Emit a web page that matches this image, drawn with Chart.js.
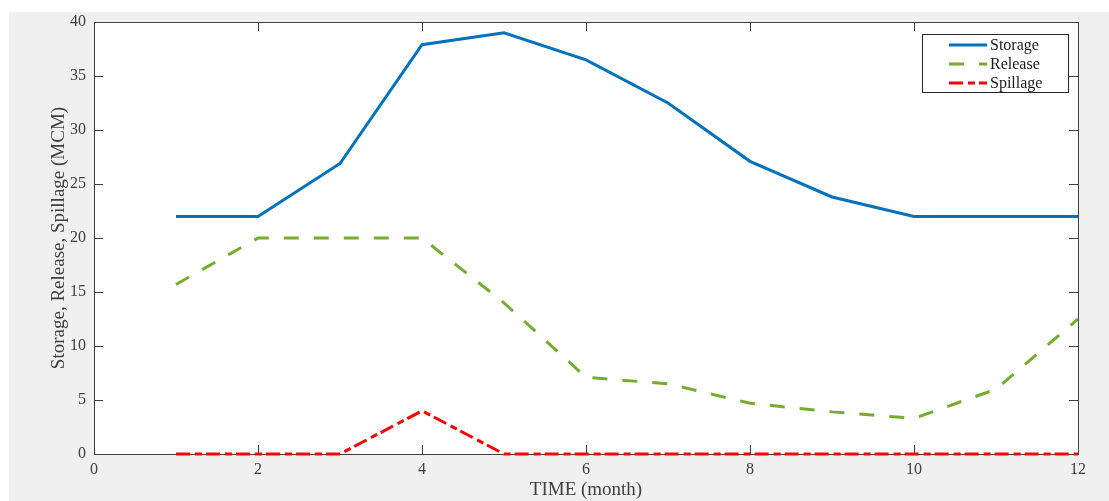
<!DOCTYPE html>
<html>
<head>
<meta charset="utf-8">
<script src="https://cdn.jsdelivr.net/npm/chart.js@4"></script>
<style>
html, body { margin: 0; padding: 0; background: #fff; }
#wrap { width: 1109px; height: 501px; }
</style>
</head>
<body>
<div id="wrap"><canvas id="chart" width="1109" height="501"></canvas></div>
<script>
// Data
const months = [1, 2, 3, 4, 5, 6, 7, 8, 9, 10, 11, 12];
const storage = [22, 22, 26.9, 37.9, 39.0, 36.5, 32.5, 27.1, 23.8, 22, 22, 22];
const release = [15.7, 20, 20, 20, 14.0, 7.1, 6.5, 4.7, 3.9, 3.3, 6.0, 12.5];
const spillage = [0, 0, 0, 4, 0, 0, 0, 0, 0, 0, 0, 0];
const xTicks = [0, 2, 4, 6, 8, 10, 12];
const yTicks = [0, 5, 10, 15, 20, 25, 30, 35, 40];

const FONT = "'Liberation Serif', 'Times New Roman', serif";
const AXIS_COLOR = '#404040';

const toPoints = (vals) => months.map((m, i) => ({ x: m, y: vals[i] }));

// Figure background: white page, gray figure, white axes
const backgroundPlugin = {
    id: 'background',
    beforeDraw(chart) {
        const { ctx, chartArea: a, width, height } = chart;
        ctx.save();
        ctx.fillStyle = '#ffffff';
        ctx.fillRect(0, 0, width, height);
        ctx.fillStyle = '#f0f0f0';
        ctx.fillRect(9, 12, width - 9, height - 12);
        ctx.fillStyle = '#ffffff';
        ctx.fillRect(a.left, a.top, a.right - a.left, a.bottom - a.top);
        ctx.restore();
    }
};

// MATLAB-like box with inward ticks on all four sides
const boxPlugin = {
    id: 'box',
    beforeDatasetsDraw(chart) {
        const { ctx, chartArea: a, scales: { x, y } } = chart;
        const len = 9;
        ctx.save();
        ctx.strokeStyle = AXIS_COLOR;
        ctx.lineWidth = 1;
        ctx.strokeRect(Math.round(a.left) + 0.5, Math.round(a.top) + 0.5,
            Math.round(a.right - a.left), Math.round(a.bottom - a.top));
        ctx.beginPath();
        xTicks.forEach(v => {
            const px = Math.round(x.getPixelForValue(v)) + 0.5;
            ctx.moveTo(px, a.bottom);
            ctx.lineTo(px, a.bottom - len);
            ctx.moveTo(px, a.top);
            ctx.lineTo(px, a.top + len);
        });
        yTicks.forEach(v => {
            const py = Math.round(y.getPixelForValue(v)) + 0.5;
            ctx.moveTo(a.left, py);
            ctx.lineTo(a.left + len, py);
            ctx.moveTo(a.right, py);
            ctx.lineTo(a.right - len, py);
        });
        ctx.stroke();
        ctx.restore();
    }
};

// Boxed legend in the upper right corner of the axes
const legendPlugin = {
    id: 'boxLegend',
    afterDraw(chart) {
        const { ctx } = chart;
        const bx = 922, by = 34, bw = 146, bh = 58;
        ctx.save();
        ctx.fillStyle = '#ffffff';
        ctx.fillRect(bx, by, bw, bh);
        ctx.strokeStyle = '#262626';
        ctx.lineWidth = 1;
        ctx.strokeRect(bx + 0.5, by + 0.5, bw, bh);
        ctx.font = '16px ' + FONT;
        ctx.textBaseline = 'middle';
        chart.data.datasets.forEach((ds, i) => {
            const ly = 45 + i * 19;
            ctx.beginPath();
            ctx.strokeStyle = ds.borderColor;
            ctx.lineWidth = ds.borderWidth;
            ctx.setLineDash(ds.borderDash || []);
            ctx.moveTo(949, ly);
            ctx.lineTo(987, ly);
            ctx.stroke();
            ctx.setLineDash([]);
            ctx.fillStyle = '#1a1a1a';
            ctx.fillText(ds.label, 990, ly + 1);
        });
        ctx.restore();
    }
};

const ctx = document.getElementById('chart').getContext('2d');
new Chart(ctx, {
    type: 'line',
    data: {
        datasets: [
            {
                label: 'Storage',
                data: toPoints(storage),
                borderColor: '#0072BD',
                borderWidth: 3,
                pointRadius: 0,
                tension: 0,
                fill: false
            },
            {
                label: 'Release',
                data: toPoints(release),
                borderColor: '#77AC30',
                borderWidth: 3,
                borderDash: [15, 15],
                pointRadius: 0,
                tension: 0,
                fill: false
            },
            {
                label: 'Spillage',
                data: toPoints(spillage),
                borderColor: '#FF0000',
                borderWidth: 3,
                borderDash: [14, 5, 7, 4],
                pointRadius: 0,
                tension: 0,
                fill: false,
                clip: 4
            }
        ]
    },
    options: {
        responsive: false,
        animation: false,
        layout: { padding: { left: 0, top: 22, right: 31, bottom: 0 } },
        plugins: {
            legend: { display: false },
            tooltip: { enabled: false }
        },
        scales: {
            x: {
                type: 'linear',
                min: 0,
                max: 12,
                afterBuildTicks: (s) => { s.ticks = xTicks.map(v => ({ value: v })); },
                afterFit: (s) => { s.height = 47; },
                grid: { display: false, drawTicks: false },
                border: { display: false },
                ticks: {
                    color: AXIS_COLOR,
                    font: { family: FONT, size: 16 },
                    padding: 6,
                    maxRotation: 0
                },
                title: {
                    display: true,
                    text: 'TIME (month)',
                    color: AXIS_COLOR,
                    font: { family: FONT, size: 19 },
                    padding: { top: 0, bottom: 0 }
                }
            },
            y: {
                min: 0,
                max: 40,
                afterBuildTicks: (s) => { s.ticks = yTicks.map(v => ({ value: v })); },
                afterFit: (s) => { s.width = 94; },
                grid: { display: false, drawTicks: false },
                border: { display: false },
                ticks: {
                    color: AXIS_COLOR,
                    font: { family: FONT, size: 16 },
                    padding: 8
                },
                title: {
                    display: true,
                    text: 'Storage, Release, Spillage (MCM)',
                    color: AXIS_COLOR,
                    font: { family: FONT, size: 19 },
                    padding: { top: 48, bottom: 0 }
                }
            }
        }
    },
    plugins: [backgroundPlugin, boxPlugin, legendPlugin]
});
</script>
</body>
</html>
